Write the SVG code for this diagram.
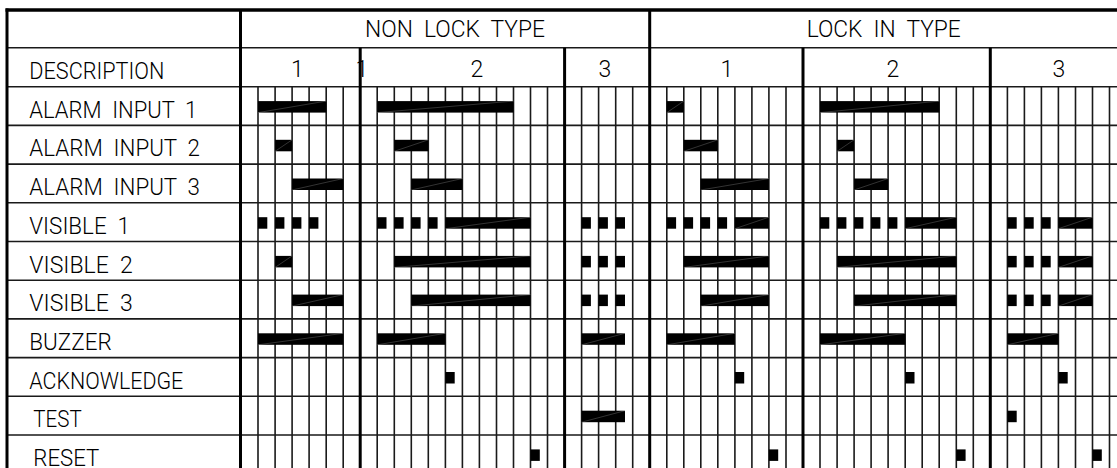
<svg xmlns="http://www.w3.org/2000/svg" width="1117" height="468" viewBox="0 0 1117 468">
<style>
.t{font-family:Roboto,"Liberation Sans",sans-serif;font-weight:300;font-size:24px;fill:#000}
.n{font-family:Roboto,"Liberation Sans",sans-serif;font-weight:300;font-size:23px;fill:#000;text-anchor:middle}
.thin{stroke:#1a1a1a;stroke-width:1.6;fill:none}
.thick{stroke:#000;stroke-width:3;fill:none}
.bars rect{fill:#000}
.hi{stroke:#fff;stroke-width:0.5;opacity:0.4;fill:none}
</style>
<rect width="1117" height="468" fill="#fff"/>

<g id="labels">
<text class="t" x="365" y="37.3" textLength="180" lengthAdjust="spacingAndGlyphs" xml:space="preserve">NON  LOCK  TYPE</text>
<text class="t" x="806.7" y="37.3" textLength="154" lengthAdjust="spacingAndGlyphs" xml:space="preserve">LOCK  IN  TYPE</text>
<text class="t" x="29.3" y="79.2" textLength="135" lengthAdjust="spacingAndGlyphs">DESCRIPTION</text>
<text class="n" x="297.5" y="76.5">1</text>
<text class="n" x="355.5" y="76.5" style="text-anchor:start">1</text>
<text class="n" x="477" y="76.5">2</text>
<text class="n" x="605" y="76.5">3</text>
<text class="n" x="727" y="76.5">1</text>
<text class="n" x="893" y="76.5">2</text>
<text class="n" x="1059" y="76.5">3</text>
<text class="t" x="29.3" y="117.7" textLength="168" lengthAdjust="spacingAndGlyphs" xml:space="preserve">ALARM  INPUT  1</text>
<text class="t" x="29.3" y="156.4" textLength="170.7" lengthAdjust="spacingAndGlyphs" xml:space="preserve">ALARM  INPUT  2</text>
<text class="t" x="29.3" y="195.1" textLength="170.7" lengthAdjust="spacingAndGlyphs" xml:space="preserve">ALARM  INPUT  3</text>
<text class="t" x="29.3" y="233.8" textLength="100.7" lengthAdjust="spacingAndGlyphs" xml:space="preserve">VISIBLE  1</text>
<text class="t" x="29.3" y="272.5" textLength="103.4" lengthAdjust="spacingAndGlyphs" xml:space="preserve">VISIBLE  2</text>
<text class="t" x="29.3" y="311.2" textLength="103.4" lengthAdjust="spacingAndGlyphs" xml:space="preserve">VISIBLE  3</text>
<text class="t" x="29.3" y="349.9" textLength="82.4" lengthAdjust="spacingAndGlyphs">BUZZER</text>
<text class="t" x="29.3" y="388.6" textLength="154" lengthAdjust="spacingAndGlyphs">ACKNOWLEDGE</text>
<text class="t" x="33.3" y="427.3" textLength="48.4" lengthAdjust="spacingAndGlyphs">TEST</text>
<text class="t" x="33.3" y="465.5" textLength="66" lengthAdjust="spacingAndGlyphs">RESET</text>
</g>

<g id="grid">
<path class="thin" d="M258 86.7V468M275.1 86.7V468M292.1 86.7V468M309.1 86.7V468M326.2 86.7V468M343.2 86.7V468
M377.2 86.7V468M394.3 86.7V468M411.3 86.7V468M428.3 86.7V468M445.4 86.7V468M462.4 86.7V468M479.4 86.7V468M496.5 86.7V468M513.5 86.7V468M530.5 86.7V468M547.5 86.7V468
M581.6 86.7V468M598.6 86.7V468M615.7 86.7V468M632.7 86.7V468
M666.8 86.7V468M683.8 86.7V468M700.8 86.7V468M717.8 86.7V468M734.9 86.7V468M751.9 86.7V468M768.9 86.7V468M786 86.7V468
M820 86.7V468M837.1 86.7V468M854.1 86.7V468M871.1 86.7V468M888.1 86.7V468M905.2 86.7V468M922.2 86.7V468M939.2 86.7V468M956.3 86.7V468M973.3 86.7V468
M1007.4 86.7V468M1024.4 86.7V468M1041.4 86.7V468M1058.4 86.7V468M1075.5 86.7V468M1092.5 86.7V468M1109.5 86.7V468"/>
<path class="thin" d="M7 47.7H1117M7 86.7H1117M7 125.4H1117M7 164.1H1117M7 202.8H1117M7 241.5H1117M7 280.2H1117M7 318.9H1117M7 357.6H1117M7 396.3H1117M7 435H1117"/>
<path class="thick" d="M5.5 10H1117" style="stroke-width:3.3"/>
<path class="thick" d="M7 8.5V468M240.5 10V468M649.7 10V468M360.2 47.7V468M564.6 47.7V468M803 47.7V468M990.3 47.7V468"/>
</g>

<g id="bars" class="bars">
<g id="row-alarm-input-1">
<rect x="258" y="101.1" width="68.2" height="11.5"/><rect x="377.2" y="101.1" width="136.3" height="11.5"/><rect x="666.8" y="101.1" width="17" height="11.5"/><rect x="820" y="101.1" width="119.2" height="11.5"/>
<path class="hi" d="M258 112.6L326.2 101.1M377.2 112.6L513.5 101.1M666.8 112.6L683.8 101.1M820 112.6L939.2 101.1"/>
</g>
<g id="row-alarm-input-2">
<rect x="275.1" y="139.8" width="17" height="11.5"/><rect x="394.3" y="139.8" width="34" height="11.5"/><rect x="683.8" y="139.8" width="34" height="11.5"/><rect x="837.1" y="139.8" width="17" height="11.5"/>
<path class="hi" d="M275.1 151.3L292.1 139.8M394.3 151.3L428.3 139.8M683.8 151.3L717.8 139.8M837.1 151.3L854.1 139.8"/>
</g>
<g id="row-alarm-input-3">
<rect x="292.1" y="178.5" width="51.1" height="11.5"/><rect x="411.3" y="178.5" width="51.1" height="11.5"/><rect x="700.8" y="178.5" width="68.1" height="11.5"/><rect x="854.1" y="178.5" width="34" height="11.5"/>
<path class="hi" d="M292.1 190L343.2 178.5M411.3 190L462.4 178.5M700.8 190L768.9 178.5M854.1 190L888.1 178.5"/>
</g>
<g id="row-visible-1">
<rect x="258" y="217.2" width="9.3" height="11.5"/><rect x="275.1" y="217.2" width="9.3" height="11.5"/><rect x="292.1" y="217.2" width="9.3" height="11.5"/><rect x="309.1" y="217.2" width="9.3" height="11.5"/>
<rect x="377.2" y="217.2" width="9.3" height="11.5"/><rect x="394.3" y="217.2" width="9.3" height="11.5"/><rect x="411.3" y="217.2" width="9.3" height="11.5"/><rect x="428.3" y="217.2" width="9.3" height="11.5"/><rect x="445.4" y="217.2" width="85.1" height="11.5"/>
<rect x="581.6" y="217.2" width="9.3" height="11.5"/><rect x="598.6" y="217.2" width="9.3" height="11.5"/><rect x="615.7" y="217.2" width="9.3" height="11.5"/>
<rect x="666.8" y="217.2" width="9.3" height="11.5"/><rect x="683.8" y="217.2" width="9.3" height="11.5"/><rect x="700.8" y="217.2" width="9.3" height="11.5"/><rect x="717.8" y="217.2" width="9.3" height="11.5"/><rect x="734.9" y="217.2" width="34" height="11.5"/>
<rect x="820" y="217.2" width="9.3" height="11.5"/><rect x="837.1" y="217.2" width="9.3" height="11.5"/><rect x="854.1" y="217.2" width="9.3" height="11.5"/><rect x="871.1" y="217.2" width="9.3" height="11.5"/><rect x="888.1" y="217.2" width="9.3" height="11.5"/><rect x="905.2" y="217.2" width="51.1" height="11.5"/>
<rect x="1007.4" y="217.2" width="9.3" height="11.5"/><rect x="1024.4" y="217.2" width="9.3" height="11.5"/><rect x="1041.4" y="217.2" width="9.3" height="11.5"/><rect x="1058.4" y="217.2" width="34.1" height="11.5"/>
<path class="hi" d="M445.4 228.7L530.5 217.2M734.9 228.7L768.9 217.2M905.2 228.7L956.3 217.2M1058.4 228.7L1092.5 217.2"/>
</g>
<g id="row-visible-2">
<rect x="275.1" y="255.9" width="17" height="11.5"/><rect x="394.3" y="255.9" width="136.2" height="11.5"/><rect x="683.8" y="255.9" width="85.1" height="11.5"/><rect x="837.1" y="255.9" width="119.2" height="11.5"/><rect x="1058.4" y="255.9" width="34.1" height="11.5"/>
<rect x="581.6" y="255.9" width="9.3" height="11.5"/><rect x="598.6" y="255.9" width="9.3" height="11.5"/><rect x="615.7" y="255.9" width="9.3" height="11.5"/>
<rect x="1007.4" y="255.9" width="9.3" height="11.5"/><rect x="1024.4" y="255.9" width="9.3" height="11.5"/><rect x="1041.4" y="255.9" width="9.3" height="11.5"/>
<path class="hi" d="M275.1 267.4L292.1 255.9M394.3 267.4L530.5 255.9M683.8 267.4L768.9 255.9M837.1 267.4L956.3 255.9M1058.4 267.4L1092.5 255.9"/>
</g>
<g id="row-visible-3">
<rect x="292.1" y="294.6" width="51.1" height="11.5"/><rect x="411.3" y="294.6" width="119.2" height="11.5"/><rect x="700.8" y="294.6" width="68.1" height="11.5"/><rect x="854.1" y="294.6" width="102.2" height="11.5"/><rect x="1058.4" y="294.6" width="34.1" height="11.5"/>
<rect x="581.6" y="294.6" width="9.3" height="11.5"/><rect x="598.6" y="294.6" width="9.3" height="11.5"/><rect x="615.7" y="294.6" width="9.3" height="11.5"/>
<rect x="1007.4" y="294.6" width="9.3" height="11.5"/><rect x="1024.4" y="294.6" width="9.3" height="11.5"/><rect x="1041.4" y="294.6" width="9.3" height="11.5"/>
<path class="hi" d="M292.1 306.1L343.2 294.6M411.3 306.1L530.5 294.6M700.8 306.1L768.9 294.6M854.1 306.1L956.3 294.6M1058.4 306.1L1092.5 294.6"/>
</g>
<g id="row-buzzer">
<rect x="258" y="333.3" width="85.2" height="11.5"/><rect x="377.2" y="333.3" width="68.2" height="11.5"/><rect x="581.6" y="333.3" width="43.4" height="11.5"/><rect x="666.8" y="333.3" width="68.1" height="11.5"/><rect x="820" y="333.3" width="85.2" height="11.5"/><rect x="1007.4" y="333.3" width="51" height="11.5"/>
<path class="hi" d="M258 344.8L343.2 333.3M377.2 344.8L445.4 333.3M581.6 344.8L625 333.3M666.8 344.8L734.9 333.3M820 344.8L905.2 333.3M1007.4 344.8L1058.4 333.3"/>
</g>
<g id="row-acknowledge">
<rect x="445.4" y="372" width="9.3" height="11.5"/><rect x="734.9" y="372" width="9.3" height="11.5"/><rect x="905.2" y="372" width="9.3" height="11.5"/><rect x="1058.4" y="372" width="9.3" height="11.5"/>
</g>
<g id="row-test">
<rect x="581.6" y="410.7" width="43.4" height="11.5"/><rect x="1007.4" y="410.7" width="9.3" height="11.5"/>
<path class="hi" d="M581.6 422.2L625 410.7"/>
</g>
<g id="row-reset">
<rect x="530.5" y="449.4" width="9.3" height="11.5"/><rect x="768.9" y="449.4" width="9.3" height="11.5"/><rect x="956.3" y="449.4" width="9.3" height="11.5"/><rect x="1092.5" y="449.4" width="9.3" height="11.5"/>
</g>
</g>
</svg>
